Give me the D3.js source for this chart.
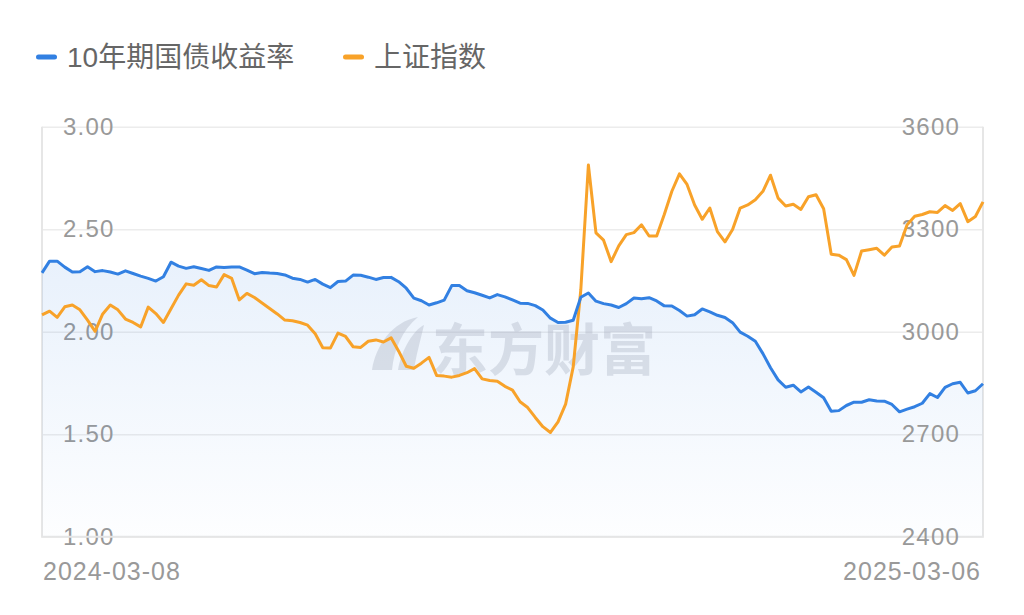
<!DOCTYPE html>
<html>
<head>
<meta charset="utf-8">
<title>10年期国债收益率 vs 上证指数</title>
<script src="https://cdn.jsdelivr.net/npm/d3@7"></script>
<style>
  body { margin: 0; background: #fff; }
  svg { display: block; }
  .tick line { stroke: #ececec; stroke-width: 1.5; }
  .domain { display: none; }
</style>
</head>
<body>
<script>
// x labels only at the two ends
const xLabels = ["2024-03-08", "2025-03-06"];
const leftTicks = [1.00, 1.50, 2.00, 2.50, 3.00];
const rightTicks = [2400, 2700, 3000, 3300, 3600];
const seriesNames = ["10年期国债收益率", "上证指数"];

// 10y yield (%), sampled evenly over the period
const yieldVals = [2.287,2.344,2.344,2.315,2.291,2.293,2.317,2.293,2.298,2.291,
  2.281,2.297,2.284,2.271,2.260,2.247,2.268,2.339,2.320,2.309,
  2.317,2.308,2.299,2.316,2.313,2.316,2.316,2.300,2.283,2.289,
  2.286,2.284,2.277,2.261,2.255,2.242,2.255,2.232,2.215,2.245,
  2.247,2.276,2.275,2.266,2.255,2.264,2.265,2.244,2.212,2.164,
  2.151,2.130,2.141,2.154,2.225,2.225,2.200,2.190,2.178,2.165,
  2.181,2.170,2.155,2.139,2.138,2.127,2.106,2.066,2.045,2.046,
  2.056,2.168,2.189,2.149,2.137,2.130,2.118,2.137,2.164,2.161,
  2.166,2.150,2.126,2.125,2.103,2.076,2.083,2.111,2.097,2.080,
  2.069,2.044,1.998,1.978,1.953,1.893,1.824,1.765,1.729,1.739,
  1.706,1.730,1.705,1.678,1.612,1.615,1.640,1.656,1.656,1.668,
  1.662,1.661,1.645,1.609,1.622,1.634,1.651,1.698,1.679,1.728,
  1.746,1.753,1.701,1.712,1.746];

// SSE composite, same sample points
const sseVals = [3049,3060,3042,3073,3078,3064,3034,3001,3052,3078,
  3064,3037,3027,3014,3072,3053,3027,3067,3107,3140,
  3136,3152,3135,3131,3167,3156,3093,3112,3100,3084,
  3068,3052,3034,3032,3027,3019,2994,2953,2952,2996,
  2986,2956,2954,2972,2976,2970,2982,2943,2899,2893,
  2908,2925,2872,2870,2867,2872,2880,2892,2862,2857,
  2855,2840,2829,2795,2778,2749,2722,2705,2736,2788,
  2897,3122,3488,3289,3268,3205,3251,3284,3290,3313,
  3280,3280,3343,3411,3462,3431,3371,3329,3362,3293,
  3263,3299,3362,3371,3386,3411,3458,3391,3368,3373,
  3358,3395,3401,3360,3227,3224,3211,3165,3236,3240,
  3244,3224,3248,3251,3313,3338,3343,3351,3349,3369,
  3355,3375,3322,3337,3380];

const blue = "#3280e2", orange = "#f8a229";
const W = 1024, H = 615;
const plotLeft = 42, plotRight = 983, plotTop = 126.7, plotBottom = 536.7;

const svg = d3.select("body").append("svg")
  .attr("width", W)
  .attr("height", H);

const x = d3.scaleLinear().domain([0, yieldVals.length - 1]).range([plotLeft, plotRight]);
const yL = d3.scaleLinear().domain([1, 3]).range([plotBottom, plotTop]);
const yR = d3.scaleLinear().domain([2400, 3600]).range([plotBottom, plotTop]);

const defs = svg.append("defs");
const grad = defs.append("linearGradient")
  .attr("id", "areaGrad")
  .attr("x1", 0).attr("y1", 0).attr("x2", 0).attr("y2", 1);
grad.append("stop").attr("offset", "0%").attr("stop-color", blue).attr("stop-opacity", 0.11);
grad.append("stop").attr("offset", "100%").attr("stop-color", blue).attr("stop-opacity", 0.01);

// grid + left labels
const gL = svg.append("g")
  .attr("transform", `translate(${plotLeft},0)`)
  .call(d3.axisLeft(yL).tickValues(leftTicks).tickFormat(d3.format(".2f"))
    .tickSize(-(plotRight - plotLeft)).tickPadding(-21));
gL.selectAll("text")
  .attr("text-anchor", "start")
  .attr("fill", "#999")
  .style("font-family", "'Liberation Sans', Arial, sans-serif")
  .style("font-size", "24px")
  .style("letter-spacing", "1.2px");

// frame
svg.append("path")
  .attr("d", `M${plotLeft},${plotTop}V${plotBottom}H${plotRight}V${plotTop}`)
  .attr("fill", "none")
  .attr("stroke", "#e6e6e6")
  .attr("stroke-width", 2);

// area under yield line
svg.append("path")
  .datum(yieldVals)
  .attr("fill", "url(#areaGrad)")
  .attr("d", d3.area()
    .x((d, i) => x(i))
    .y0(plotBottom)
    .y1(d => yL(d)));

// watermark
const wm = svg.append("g").attr("fill", "#a7afc0").attr("opacity", 0.35);
wm.append("path")
  .attr("d", "M372,370 C376,345 392,322 418,317 C402,330 394,350 392,370 Z M398,370 C402,348 414,330 424,325 C420,342 416,356 414,370 Z");
wm.append("text")
  .attr("x", 432)
  .attr("y", 345)
  .attr("dominant-baseline", "central")
  .style("font-family", "'Noto Sans CJK SC', sans-serif")
  .style("font-size", "56px")
  .style("font-weight", "bold")
  .text("东方财富");

// right labels
const gR = svg.append("g")
  .attr("transform", `translate(${plotRight},0)`)
  .call(d3.axisRight(yR).tickValues(rightTicks).tickFormat(d3.format("d"))
    .tickSize(0).tickPadding(-23));
gR.selectAll("text")
  .attr("text-anchor", "end")
  .attr("fill", "#999")
  .style("font-family", "'Liberation Sans', Arial, sans-serif")
  .style("font-size", "24px")
  .style("letter-spacing", "1.2px");

// lines
svg.append("path")
  .datum(sseVals)
  .attr("fill", "none")
  .attr("stroke", orange)
  .attr("stroke-width", 3)
  .attr("stroke-linejoin", "round")
  .attr("d", d3.line().x((d, i) => x(i)).y(d => yR(d)));

svg.append("path")
  .datum(yieldVals)
  .attr("fill", "none")
  .attr("stroke", blue)
  .attr("stroke-width", 3)
  .attr("stroke-linejoin", "round")
  .attr("d", d3.line().x((d, i) => x(i)).y(d => yL(d)));

// x end labels
svg.append("text")
  .attr("x", x(0) + 1)
  .attr("y", 580)
  .attr("text-anchor", "start")
  .attr("fill", "#999")
  .style("font-family", "'Liberation Sans', Arial, sans-serif")
  .style("font-size", "25px")
  .style("letter-spacing", "1px")
  .text(xLabels[0]);
svg.append("text")
  .attr("x", x(yieldVals.length - 1) - 2)
  .attr("y", 580)
  .attr("text-anchor", "end")
  .attr("fill", "#999")
  .style("font-family", "'Liberation Sans', Arial, sans-serif")
  .style("font-size", "25px")
  .style("letter-spacing", "1px")
  .text(xLabels[1]);

// legend
const legend = svg.append("g");
[[36, blue, seriesNames[0]], [343, orange, seriesNames[1]]].forEach(([lx, c, name]) => {
  legend.append("rect")
    .attr("x", lx).attr("y", 54.5)
    .attr("width", 21).attr("height", 5).attr("rx", 2.5)
    .attr("fill", c);
  legend.append("text")
    .attr("x", lx + 31)
    .attr("y", 57)
    .attr("dominant-baseline", "central")
    .attr("fill", "#666")
    .style("font-family", "'Liberation Sans', 'Noto Sans CJK SC', sans-serif")
    .style("font-size", "28px")
    .text(name);
});
</script>
</body>
</html>
